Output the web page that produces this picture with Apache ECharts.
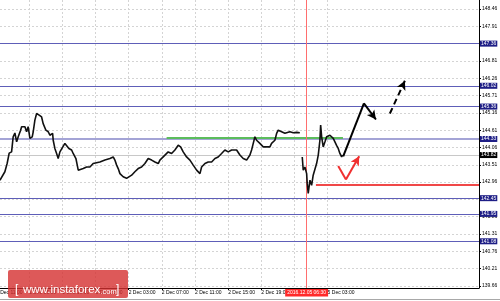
<!DOCTYPE html>
<html><head><meta charset="utf-8">
<script src="https://cdn.jsdelivr.net/npm/echarts@6/dist/echarts.min.js"></script>
<style>html,body{margin:0;padding:0;background:#fff;overflow:hidden}#c{width:500px;height:301px}</style>
</head><body><div id="c"></div>
<script>
// ---- data (x = hours since 1 Dec 11:00 on the chart's bar time scale, y = USDJPY price) ----
const xTickLabels = ['1 Dec 11:00','1 Dec 15:00','1 Dec 19:00','1 Dec 23:00','2 Dec 03:00','2 Dec 07:00','2 Dec 11:00','2 Dec 15:00','2 Dec 19:00','2 Dec 23:00','5 Dec 03:00'];
const yTickValues = [139.66,140.21,140.76,141.31,141.86,142.41,142.96,143.51,144.06,144.61,145.16,145.71,146.26,146.81,147.36,147.91,148.46];
const levelValues = [147.36,146.02,145.36,144.33,142.45,141.95,141.08];
const currentPrice = 143.82;
const cursorHour = 37.47;
const cursorLabel = '2016.12.05 06:30';

const priceHours = [0.47,1.07,1.35,1.59,1.88,2.07,2.28,2.49,2.68,2.97,3.09,3.49,3.69,3.88,4.09,4.37,4.49,4.69,4.90,5.21,5.50,5.69,6.02,6.30,6.50,6.83,6.90,7.10,7.31,7.50,7.71,7.91,8.31,8.52,8.79,9.12,9.31,9.64,9.80,9.92,10.12,10.52,10.93,11.33,11.72,12.53,13.14,13.74,14.14,14.34,14.55,14.74,14.95,15.34,15.75,15.95,16.36,16.75,17.15,17.56,17.96,18.36,18.77,19.17,19.57,19.77,20.17,20.77,21.18,21.58,21.98,22.27,22.58,22.99,23.39,23.79,24.20,24.60,24.80,25.20,25.60,26.01,26.41,26.80,27.21,27.61,28.01,28.42,28.61,29.02,29.42,29.82,30.23,30.42,30.63,30.83,31.03,31.23,31.43,31.83,32.23,32.64,33.04,33.24,33.64,33.85,34.04,34.45,34.85,35.05,35.45,35.85,36.26,36.65,36.80,36.94,37.06,37.26,37.47,37.54,37.66,37.87,38.07,38.26,38.47,38.67,38.87,39.07,39.16,39.28,39.47,39.68,39.88,40.07,40.28,40.48,40.68,40.88,41.08,41.28,41.48,41.69,41.80];
const priceValues = [143.02,143.29,143.56,143.88,143.92,144.40,144.52,144.24,144.40,144.61,144.72,144.72,144.56,144.72,144.35,144.40,144.56,144.93,145.14,145.09,145.03,144.82,144.61,144.56,144.45,144.51,144.29,144.03,143.87,143.71,143.92,143.98,144.19,144.19,144.03,143.98,143.87,143.71,143.50,143.34,143.34,143.39,143.44,143.44,143.55,143.60,143.66,143.71,143.76,143.66,143.50,143.39,143.23,143.13,143.08,143.02,143.18,143.29,143.39,143.44,143.55,143.71,143.66,143.60,143.55,143.66,143.76,143.92,143.87,143.98,144.13,144.08,143.92,143.76,143.66,143.50,143.34,143.23,143.44,143.55,143.60,143.60,143.71,143.76,143.87,143.98,143.92,143.98,144.03,143.98,143.82,143.71,143.66,143.71,143.82,143.98,144.19,144.40,144.29,144.19,144.08,144.08,144.08,144.19,144.29,144.51,144.61,144.56,144.51,144.45,144.56,144.53,144.54,144.53,null,143.76,143.34,143.44,143.23,142.92,142.60,143.02,142.86,143.18,143.13,143.55,143.82,144.29,144.77,144.40,144.08,144.24,144.40,144.45,144.45,144.40,144.35,144.29,144.13,144.03,143.87,143.76,143.82];

const greenLineHours = [20.58, 41.85];
const greenLineValue = 144.37;
const redLineHours = [38.59, 58.26];
const redLineValue = 142.87;

const blackArrowPath = [[41.88,143.78],[44.38,145.46],[45.83,144.95]];
const dashedArrowPath = [[47.51,145.14],[49.32,146.18]];
const redArrowPath = [[41.28,143.47],[42.21,143.04],[43.81,143.78]];

// ---- chart ----
const FONT = 'Liberation Sans';
const chart = echarts.init(document.getElementById('c'), null, {renderer: 'canvas'});

function pathSegments(path) {
  const segs = [];
  for (let i = 0; i < path.length - 1; i++) {
    const last = i === path.length - 2;
    segs.push([{coord: path[i], symbol: 'none'}, {coord: path[i + 1], symbol: last ? 'arrow' : 'none', symbolSize: last ? [7, 9] : 0}]);
  }
  return segs;
}

const priceData = priceHours.map((h, i) => [h, priceValues[i] === null ? '-' : priceValues[i]]);
const gridValues = yTickValues.filter(v => levelValues.indexOf(v) < 0);

const option = {
  animation: false,
  backgroundColor: '#ffffff',
  grid: {left: -4, right: 21, top: 0, bottom: 13, containLabel: false, outerBoundsMode: 'none'},
  xAxis: {
    type: 'value', min: 0, max: 58.26, interval: 2,
    axisLine: {show: true, onZero: false, lineStyle: {color: '#000', width: 1}},
    axisTick: {show: true, length: 2, customValues: xTickLabels.map((_, i) => i * 4), lineStyle: {color: '#000'}},
    axisLabel: {
      show: true, align: 'left', margin: 2, fontSize: 5, fontFamily: FONT, color: '#000',
      hideOverlap: false, showMinLabel: true,
      customValues: xTickLabels.map((_, i) => i * 4),
      formatter: v => xTickLabels[Math.round(v / 4)] || ''
    },
    splitLine: {show: true, lineStyle: {color: '#d4d4d4', type: [2, 2], width: 1}}
  },
  yAxis: {
    type: 'value', position: 'right', min: 139.596, max: 148.746,
    axisLine: {show: true, onZero: false, lineStyle: {color: '#000', width: 1}},
    axisTick: {show: true, length: 2, customValues: yTickValues, lineStyle: {color: '#000'}},
    axisLabel: {show: true, customValues: yTickValues, margin: 3, fontSize: 5, fontFamily: FONT, color: '#000', formatter: v => v.toFixed(2)},
    splitLine: {show: false}
  },
  series: [
    { // horizontal dashed grid
      type: 'line', data: [], silent: true, z: 1,
      markLine: {z: 1, silent: true, symbol: ['none', 'none'], label: {show: false},
        lineStyle: {color: '#d4d4d4', type: [2, 2], width: 1},
        data: gridValues.map(v => ({yAxis: v}))}
    },
    { // current price line
      type: 'line', data: [], silent: true, z: 2,
      markLine: {z: 2, silent: true, symbol: ['none', 'none'],
        label: {show: true, position: 'end', distance: 1, formatter: p => p.value.toFixed(2), color: '#fff', backgroundColor: '#000', fontSize: 5, fontFamily: FONT, padding: [1, 1, 0, 1]},
        lineStyle: {color: '#c8c8c8', type: 'solid', width: 1},
        data: [{yAxis: currentPrice}]}
    },
    { // level lines
      type: 'line', data: [], silent: true, z: 3,
      markLine: {z: 3, silent: true, symbol: ['none', 'none'],
        label: {show: true, position: 'end', distance: 1, formatter: p => p.value.toFixed(2), color: '#fff', backgroundColor: '#1e1e86', fontSize: 5, fontFamily: FONT, padding: [1, 1, 0, 1]},
        lineStyle: {color: '#5e5eb8', type: 'solid', width: 1},
        data: levelValues.map(v => v === 144.33 ? {yAxis: v, lineStyle: {color: '#a4a4d6', width: 2}} : {yAxis: v})}
    },
    { // green and red horizontal segments, red cursor
      type: 'line', data: [], silent: true, z: 4,
      markLine: {z: 4, silent: true, symbol: ['none', 'none'], label: {show: false},
        data: [
          [{coord: [greenLineHours[0], greenLineValue], lineStyle: {color: '#5cbc5c', width: 2, type: 'solid'}}, {coord: [greenLineHours[1], greenLineValue]}],
          [{coord: [redLineHours[0], redLineValue], lineStyle: {color: '#f04848', width: 2, type: 'solid'}}, {coord: [redLineHours[1], redLineValue]}],
          {xAxis: cursorHour, lineStyle: {color: '#ff6e6e', width: 1, type: 'solid'},
            label: {show: true, position: 'start', distance: 1, formatter: cursorLabel, color: '#fff', backgroundColor: '#ff2a2a', fontSize: 5, fontFamily: FONT, padding: [1.5, 2, 1, 2]}}
        ]}
    },
    { // price
      type: 'line', data: priceData, showSymbol: false, z: 5, clip: true,
      lineStyle: {color: '#111', width: 1.6}, connectNulls: false
    },
    { // black solid arrow
      type: 'line', data: [], silent: true, z: 6,
      markLine: {z: 6, silent: true, label: {show: false}, symbol: ['none', 'none'],
        lineStyle: {color: '#000', width: 2, type: 'solid'},
        data: pathSegments(blackArrowPath)}
    },
    { // dashed arrow
      type: 'line', data: [], silent: true, z: 6,
      markLine: {z: 6, silent: true, label: {show: false}, symbol: ['none', 'none'],
        lineStyle: {color: '#000', width: 2, type: [6, 4]},
        data: pathSegments(dashedArrowPath)}
    },
    { // red arrow
      type: 'line', data: [], silent: true, z: 6,
      markLine: {z: 6, silent: true, label: {show: false}, symbol: ['none', 'none'],
        lineStyle: {color: '#f03030', width: 2, type: 'solid'},
        data: pathSegments(redArrowPath)}
    }
  ],
  graphic: [
    {type: 'line', silent: true, z: 1, shape: {x1: 0, y1: 299.5, x2: 500, y2: 299.5}, style: {stroke: '#a8a8a8', lineWidth: 1}},
    {type: 'rect', z: 100, silent: true, shape: {x: 8, y: 270, width: 120, height: 28, r: 2}, style: {fill: 'rgba(212,48,48,0.8)'}},
    {type: 'text', z: 101, silent: true, x: 15, y: 290, style: {text: '[', fill: '#ffffff', fontSize: 12, fontFamily: FONT, verticalAlign: 'middle'}},
    {type: 'text', z: 101, silent: true, x: 23, y: 290, style: {text: 'www.instaforex', fill: '#ffffff', fontSize: 11.5, fontFamily: FONT, verticalAlign: 'middle'}},
    {type: 'text', z: 101, silent: true, x: 100.5, y: 291.5, style: {text: '.com', fill: '#ffffff', fontSize: 7.5, fontFamily: FONT, verticalAlign: 'middle'}},
    {type: 'text', z: 101, silent: true, x: 116, y: 290, style: {text: ']', fill: '#ffffff', fontSize: 12, fontFamily: FONT, verticalAlign: 'middle'}}
  ]
};
chart.setOption(option);
</script>
</body></html>
